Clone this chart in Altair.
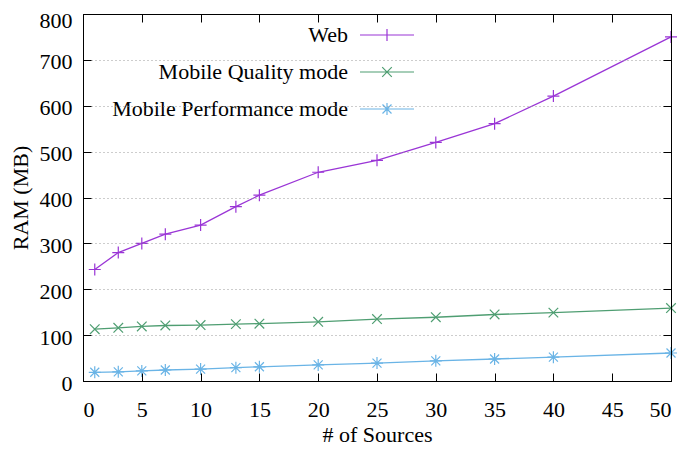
import altair as alt
import pandas as pd

# ---- data ----
sources = [1, 3, 5, 7, 10, 13, 15, 20, 25, 30, 35, 40, 50]
web = [243, 280, 300, 320, 340, 380, 405, 455, 481, 520, 561, 621, 750]
quality = [113, 116, 119, 121, 122, 124, 125, 129, 135, 139, 145, 149, 159]
performance = [19, 20, 22, 24, 26, 29, 31, 35, 39, 44, 48, 52, 61]

series_names = ["Web", "Mobile Quality mode", "Mobile Performance mode"]
series_colors = ["#9a35d6", "#4f9e72", "#6ab4e6"]

x_ticks = list(range(0, 51, 5))
y_ticks = list(range(0, 801, 100))

rows = []
for name, vals in zip(series_names, [web, quality, performance]):
    for s, v in zip(sources, vals):
        rows.append({"sources": s, "ram": v, "series": name})
df = pd.DataFrame(rows)

FONT = "Liberation Serif, Times New Roman, Times, serif"
FS = 22

# gnuplot-like markers: plus, cross, asterisk
marker_paths = [
    "M-1,0L1,0M0,-1L0,1",
    "M-0.8,-0.8L0.8,0.8M-0.8,0.8L0.8,-0.8",
    "M-1,0L1,0M0,-1L0,1M-0.75,-0.75L0.75,0.75M-0.75,0.75L0.75,-0.75",
]
# legend samples: line segment with the marker in its middle
legend_paths = [
    "M-4.5,0L4.5,0M0,-1L0,1",
    "M-4.5,0L4.5,0M-0.8,-0.8L0.8,0.8M-0.8,0.8L0.8,-0.8",
    "M-4.5,0L4.5,0M0,-1L0,1M-0.75,-0.75L0.75,0.75M-0.75,0.75L0.75,-0.75",
]

x_scale = alt.Scale(domain=[0, 50], nice=False, zero=False)
y_scale = alt.Scale(domain=[0, 800], nice=False)
color_scale = alt.Scale(domain=series_names, range=series_colors)
marker_scale = alt.Scale(domain=series_names, range=marker_paths)
legend_scale = alt.Scale(domain=series_names, range=legend_paths)

INWARD = {"expr": "-8"}

common_axis = dict(
    domainColor="black", tickColor="black", tickWidth=1, domainWidth=1,
    labelFont=FONT, labelFontSize=FS, labelColor="black",
    titleFont=FONT, titleFontSize=FS, titleColor="black", titleFontWeight="normal",
    tickSize=INWARD, zindex=2,
)

base = alt.Chart(df)

lines = base.mark_line(strokeWidth=1.3).encode(
    x=alt.X("sources:Q", scale=x_scale,
            axis=alt.Axis(orient="bottom", values=x_ticks, title="# of Sources",
                          grid=False, labelPadding=26, titlePadding=4, **common_axis)),
    y=alt.Y("ram:Q", scale=y_scale,
            axis=alt.Axis(orient="left", values=y_ticks, title="RAM (MB)",
                          grid=True, gridDash=[1, 3], gridColor="#9a9a9a", gridWidth=1,
                          labelPadding=19,
                          labelOffset={"condition": {"test": "datum.value >= 800", "value": 6},
                                       "value": 2},
                          titlePadding=7, **common_axis)),
    color=alt.Color("series:N", scale=color_scale, legend=None),
)

points = base.mark_point(filled=False, strokeWidth=1.2, size=144, opacity=1).encode(
    x=alt.X("sources:Q", scale=x_scale,
            axis=alt.Axis(orient="top", values=x_ticks, labels=False, title=None,
                          grid=False, **common_axis)),
    y=alt.Y("ram:Q", scale=y_scale,
            axis=alt.Axis(orient="right", values=y_ticks, labels=False, title=None,
                          grid=False, **common_axis)),
    color=alt.Color("series:N", scale=color_scale, legend=None),
    shape=alt.Shape("series:N", scale=marker_scale, legend=None),
)

# leading no-break spaces widen the white key box to the left, as gnuplot's opaque key does
leg = alt.Legend(
    title=None, orient="none", legendX=1, legendY=0, padding=10, rowPadding=15,
    symbolOffset=282, labelOffset={"expr": "-50"}, labelAlign="right", labelLimit=400,
    labelExpr="'\u00a0\u00a0\u00a0\u00a0' + datum.label",
    labelFont=FONT, labelFontSize=FS, labelColor="black",
    symbolSize=144, symbolStrokeWidth=1.2, fillColor="white",
)

legend_layer = base.transform_filter("false").mark_point(
    filled=False, strokeWidth=1.2, size=144, opacity=1
).encode(
    x=alt.X("sources:Q", scale=x_scale, axis=None),
    y=alt.Y("ram:Q", scale=y_scale, axis=None),
    color=alt.Color("series:N", scale=color_scale, legend=leg),
    shape=alt.Shape("series:N", scale=legend_scale, legend=leg),
)

chart = alt.layer(lines, points, legend_layer).resolve_scale(
    color="independent", shape="independent"
).resolve_axis(
    x="independent", y="independent"
).properties(
    width=588, height=367,
    padding={"left": 75, "top": 6, "right": 6, "bottom": 64},
    autosize=alt.AutoSizeParams(type="none"),
).configure_view(stroke="black", strokeWidth=1)

chart.save("out.html", embed_options={"renderer": "svg", "actions": False})
